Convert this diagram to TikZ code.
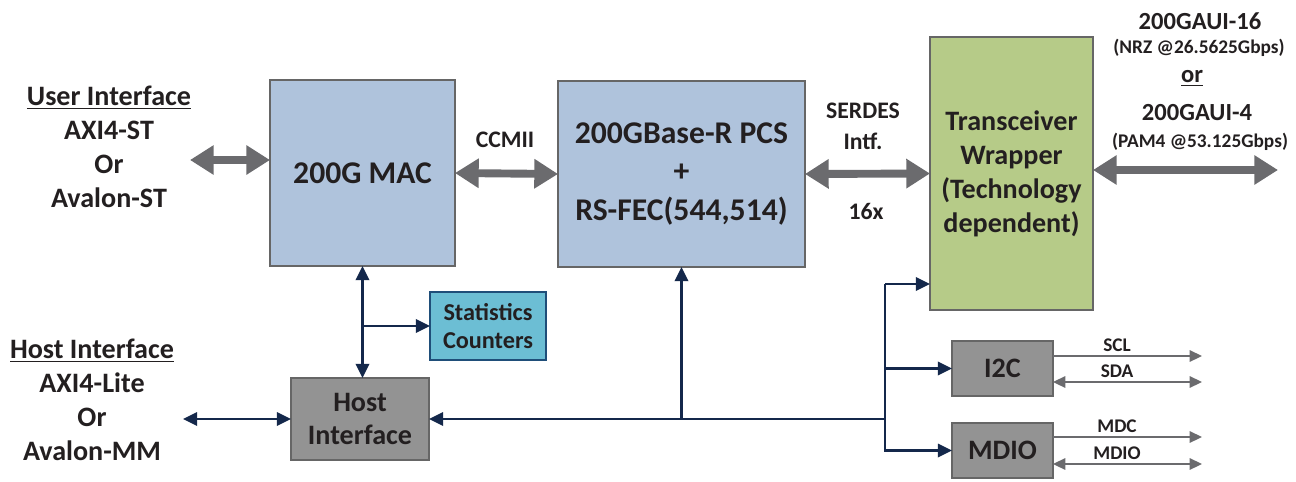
\documentclass[tikz,border=0pt]{standalone}
\usepackage{fontspec}
\setmainfont{Carlito}
\usepackage{xcolor}
\usepackage{tikz}
\usetikzlibrary{arrows.meta}

\definecolor{macblue}{HTML}{AFC3DC}
\definecolor{xcvrgreen}{HTML}{B6CB88}
\definecolor{statcyan}{HTML}{6CBED4}
\definecolor{statedge}{HTML}{1F4E79}
\definecolor{boxgray}{HTML}{939393}
\definecolor{navy}{HTML}{14284B}
\definecolor{arrgray}{HTML}{6B6B6E}
\definecolor{ink}{HTML}{231F20}

\tikzset{
  every node/.style={font=\bfseries, text=ink, outer sep=0pt},
  blk/.style={draw=gray!80!black, line width=0.8pt, align=center, inner sep=2pt},
  bigarrow/.style={draw=arrgray, line width=4.5pt, {Triangle[length=13.5pt,width=16pt]}-{Triangle[length=13.5pt,width=16pt]}},
  navline/.style={draw=navy, line width=1.6pt},
  navtip/.style={navline, -{Triangle[length=8pt,width=7.5pt]}},
  navboth/.style={navline, {Triangle[length=8pt,width=7.5pt]}-{Triangle[length=8pt,width=7.5pt]}},
  sigline/.style={draw=arrgray, line width=1pt, -{Triangle[length=7pt,width=6.5pt]}},
  sigboth/.style={draw=arrgray, line width=1pt, {Triangle[length=7pt,width=6.5pt]}-{Triangle[length=7pt,width=6.5pt]}},
  pin/.style={pos=0.43, above=-1pt, font=\fontsize{11}{12}\bfseries},
}

\begin{document}
\begin{tikzpicture}[x=0.02cm, y=-0.02cm]
        \useasboundingbox (0,0) rectangle (1296,481);

        %=== Blocks ===
        \node[blk, fill=macblue, minimum width=3.7cm, minimum height=3.72cm,
              font=\fontsize{18}{20}\bfseries] (mac) at (362.5,173) {200G MAC};
        \node[blk, fill=macblue, minimum width=4.94cm, minimum height=3.72cm,
              font=\fontsize{18}{21.8}\bfseries] (pcs) at (681.5,174)
              {200GBase-R PCS\\+\\RS-FEC(544,514)};
        \node[blk, fill=xcvrgreen, minimum width=3.26cm, minimum height=5.46cm,
              font=\fontsize{16}{19.3}\bfseries] (xcvr) at (1011.5,173.5)
              {Transceiver\\Wrapper\\(Technology\\dependent)};
        \node[blk, draw=statedge, line width=1.4pt, fill=statcyan, minimum width=2.32cm, minimum height=1.36cm,
              font=\fontsize{13.8}{15.9}\bfseries] (stats) at (488,326) {Statistics\\Counters};
        \node[blk, fill=boxgray, minimum width=2.76cm, minimum height=1.64cm,
              font=\fontsize{16}{19.3}\bfseries] (host) at (360,419) {Host\\Interface};
        \node[blk, fill=boxgray, minimum width=2.02cm, minimum height=1.1cm,
              font=\fontsize{16}{20}\bfseries] (i2c) at (1002.5,368.5) {I2C};
        \node[blk, fill=boxgray, minimum width=2.02cm, minimum height=1.1cm,
              font=\fontsize{16}{20}\bfseries] (mdio) at (1002.5,450.5) {MDIO};

        %=== Side labels ===
        \node[align=center, font=\fontsize{16}{19.3}\bfseries] (user) at (109,147)
              {\underline{User Interface}\\AXI4-ST\\Or\\Avalon-ST};
        \node[align=center, font=\fontsize{16}{19.3}\bfseries] (hostif) at (92,400)
              {\underline{Host Interface}\\AXI4-Lite\\Or\\Avalon-MM};
        \node[font=\fontsize{13.5}{15}\bfseries] (ccmii) at (505,140) {CCMII};
        \node[align=center, font=\fontsize{13.5}{17.6}\bfseries] (serdes) at (863,126) {SERDES\\Intf.};
        \node[font=\fontsize{13.5}{15}\bfseries] (lanes) at (866,211) {16x};

        %=== Line side ===
        \node[font=\fontsize{14}{16}\bfseries] (gaui16) at (1200,21) {200GAUI-16};
        \node[font=\fontsize{11}{13}\bfseries] (nrz) at (1199,48) {(NRZ @26.5625Gbps)};
        \node[font=\fontsize{14}{16}\bfseries] (orlbl) at (1192,78) {\underline{or}};
        \node[font=\fontsize{14}{16}\bfseries] (gaui4) at (1197,113) {200GAUI-4};
        \node[font=\fontsize{11}{13}\bfseries] (pam4) at (1200,142) {(PAM4 @53.125Gbps)};

        %=== Data path ===
        \coordinate (uend) at (190,160);
        \coordinate (lineout) at (1278,170);
        \draw[bigarrow] (uend) -- (uend -| mac.west);
        \draw[bigarrow] (mac.east) -- (pcs.west);
        \draw[bigarrow] (pcs.east) -- (xcvr.west);
        \draw[bigarrow] (xcvr.east |- lineout) -- (lineout);

        %=== Control path ===
        \coordinate (hend) at (183,419);
        \coordinate (bus) at (885,419);
        \coordinate (tap) at (885,284);
        \draw[navboth] (mac.south) -- (mac.south |- host.north);
        \draw[navtip] (mac.south |- stats.west) -- (stats.west);
        \draw[navboth] (hend) -- (host.west);
        \draw[navtip] (bus) -- (host.east);
        \draw[navtip] (pcs.south |- bus) -- (pcs.south);
        \draw[navtip] (tap) |- (mdio.west);
        \draw[navtip] (tap) -- (tap -| xcvr.west);
        \draw[navtip] (tap |- i2c.west) -- (i2c.west);

        %=== Management pins ===
        \draw[sigline] ([yshift=0.25cm]i2c.east) -- ++(149,0) node[pin] (scl) {SCL};
        \draw[sigboth] ([yshift=-0.27cm]i2c.east) -- ++(149,0) node[pin] (sda) {SDA};
        \draw[sigline] ([yshift=0.27cm]mdio.east) -- ++(149,0) node[pin] (mdc) {MDC};
        \draw[sigboth] ([yshift=-0.27cm]mdio.east) -- ++(149,0) node[pin] (mdiopin) {MDIO};
    \end{tikzpicture}
\end{document}
